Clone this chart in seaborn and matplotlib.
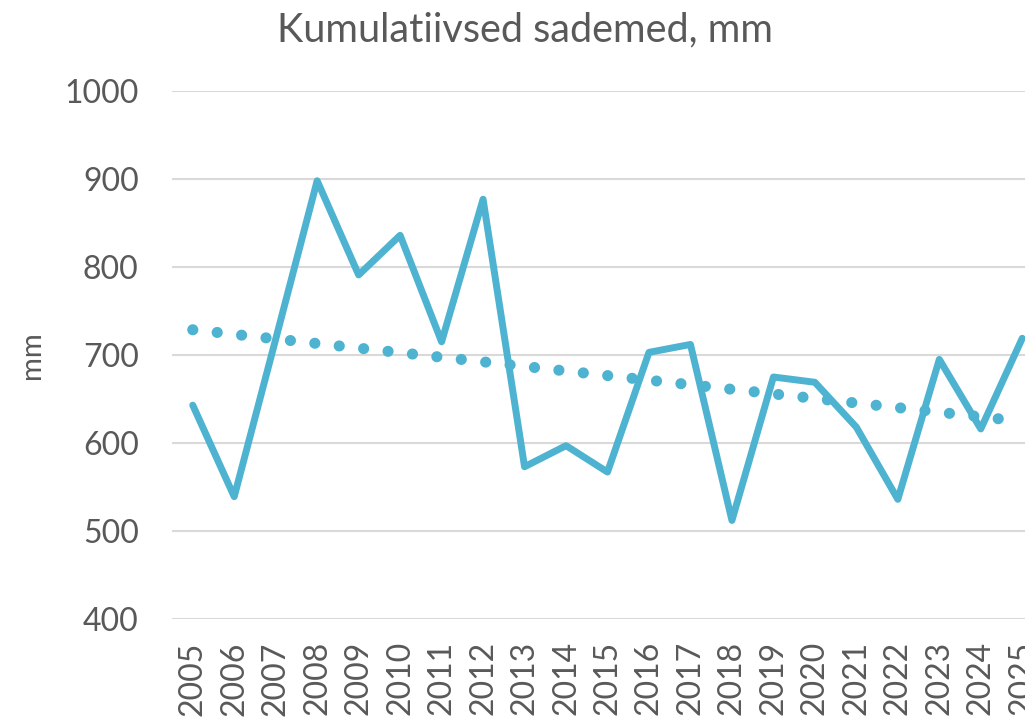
import matplotlib
matplotlib.use("Agg")
import matplotlib.pyplot as plt
import numpy as np
import pandas as pd
import seaborn as sns

years = list(range(2005, 2026))
rain_mm = [643, 539, 718, 898, 791, 836, 715, 877, 573, 597, 567,
           703, 712, 512, 675, 669, 618, 536, 695, 616, 719]
y_ticks = [400, 500, 600, 700, 800, 900, 1000]

line_color = '#4EB3D0'
text_color = '#595959'

sns.set_style('white')
plt.rcParams['font.family'] = ['Lato', 'DejaVu Sans']

df = pd.DataFrame({'Aasta': years, 'Sademed': rain_mm})

# linear trend of the series
coef = np.polyfit(df['Aasta'], df['Sademed'], 1)
df['Trend'] = np.polyval(coef, df['Aasta'])

fig = plt.figure(figsize=(10.25, 7.21), dpi=100)
ax = fig.add_axes([172 / 1025, 1 - 619 / 721, (1043 - 172) / 1025, 528 / 721])

sns.lineplot(data=df, x='Aasta', y='Trend', ax=ax, color=line_color,
             linewidth=8, linestyle=(0, (0.01, 2.2)),
             solid_capstyle='round', dash_capstyle='round')
sns.lineplot(data=df, x='Aasta', y='Sademed', ax=ax, color=line_color,
             linewidth=5, solid_capstyle='round', solid_joinstyle='round')

ax.set_xlim(2004.5, 2025.5)
ax.set_ylim(400, 1000)
ax.set_yticks(y_ticks)
ax.set_xticks(years)
ax.set_xticklabels([str(y) for y in years], rotation=90)
ax.grid(axis='y', color='#D9D9D9', linewidth=1.5)
ax.set_axisbelow(True)
for s in ax.spines.values():
    s.set_visible(False)
ax.tick_params(axis='both', length=0, labelsize=23, labelcolor=text_color)
ax.tick_params(axis='y', pad=24)
ax.tick_params(axis='x', pad=16)

ax.set_xlabel('')
ax.set_ylabel('mm', fontsize=21, color=text_color, labelpad=14)
fig.text(525 / 1025, 1 - 30 / 721, 'Kumulatiivsed sademed, mm',
         ha='center', va='center', fontsize=28.5, color=text_color)

fig.savefig('out.png', dpi=100)
